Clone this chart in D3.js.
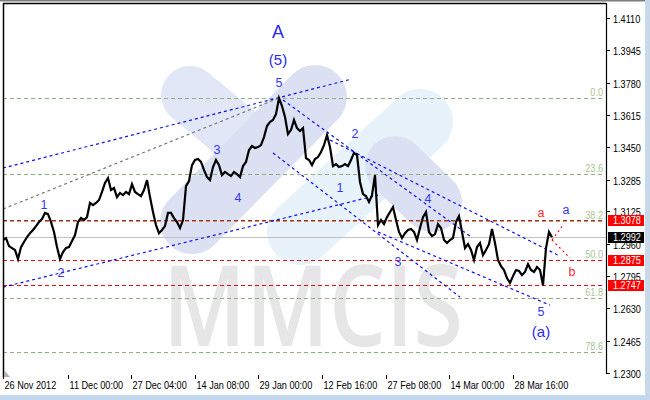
<!DOCTYPE html>
<html><head><meta charset="utf-8">
<script src="https://cdn.jsdelivr.net/npm/d3@7"></script>
<style>html,body{margin:0;padding:0;background:#fff;overflow:hidden}</style>
</head><body>
<svg id="c" width="650" height="400"></svg>
<script>
// ---------- DATA ----------
const priceTicks = [1.4110,1.3945,1.3780,1.3615,1.3450,1.3285,1.3125,1.2960,1.2795,1.2630,1.2465,1.2300];
const timeTickBars = [0,65,128,192,255,319,383,446,510];
const timeTickLabels = ["26 Nov 2012","11 Dec 00:00","27 Dec 04:00","14 Jan 08:00","29 Jan 00:00","12 Feb 16:00","27 Feb 08:00","14 Mar 00:00","28 Mar 16:00"];
const sampleStep = 3; // bars between samples
const closes = [
1.2978,1.2988,1.2947,1.2937,1.2927,1.2881,1.2942,1.2968,1.2993,1.3013,
1.3029,1.3049,1.3070,1.3085,1.3116,1.3110,1.3070,1.3019,1.2942,1.2881,
1.2917,1.2937,1.2942,1.2973,1.3003,1.3070,1.3090,1.3080,1.3095,1.3167,
1.3156,1.3167,1.3182,1.3223,1.3269,1.3294,1.3233,1.3243,1.3197,1.3218,
1.3207,1.3223,1.3212,1.3263,1.3223,1.3212,1.3202,1.3233,1.3284,1.3197,
1.3121,1.3054,1.3013,1.3029,1.3049,1.3116,1.3116,1.3090,1.3070,1.3039,
1.3080,1.3253,1.3279,1.3360,1.3386,1.3391,1.3376,1.3335,1.3299,1.3284,
1.3350,1.3386,1.3360,1.3309,1.3325,1.3314,1.3304,1.3325,1.3314,1.3299,
1.3355,1.3376,1.3437,1.3457,1.3447,1.3452,1.3462,1.3503,1.3559,1.3580,
1.3590,1.3620,1.3702,1.3661,1.3605,1.3518,1.3539,1.3590,1.3549,1.3534,
1.3549,1.3396,1.3386,1.3360,1.3391,1.3401,1.3427,1.3462,1.3513,1.3452,
1.3355,1.3365,1.3350,1.3355,1.3365,1.3355,1.3386,1.3422,1.3411,1.3274,
1.3212,1.3202,1.3172,1.3207,1.3309,1.3054,1.3080,1.3059,1.3095,1.3121,
1.3146,1.3080,1.3019,1.2988,1.3013,1.3029,1.3034,1.3019,1.2978,1.3039,
1.3095,1.3121,1.3019,1.2998,1.3008,1.3059,1.3039,1.2978,1.2963,1.2978,
1.2988,1.3070,1.3100,1.3019,1.2937,1.2957,1.2927,1.2876,1.2942,1.2963,
1.2901,1.2927,1.2957,1.3034,1.2963,1.2876,1.2845,1.2825,1.2784,1.2759,
1.2794,1.2825,1.2820,1.2799,1.2815,1.2855,1.2825,1.2815,1.2840,1.2825,
1.2747,1.2937,1.3019,1.2992];
const redLevels = [1.3078, 1.2875, 1.2747];
const bidPrice = 1.2992;
const fibLevels = [0.0, 23.6, 38.2, 50.0, 61.8, 78.6];
const fibHigh = 1.3702, fibLow = 1.2054;
// trend lines: [bar1, price1, bar2, price2, kind]
const trendLines = [
  [0,1.3345,349,1.3799,"blue"],
  [0,1.2738,375,1.3207,"blue"],
  [0,1.3136,276,1.3702,"gray"],
  [280,1.3692,467,1.2998,"blue"],
  [327,1.3488,555,1.2901,"blue"],
  [270,1.3422,457,1.2687,"blue"],
  [375,1.3019,547,1.2646,"blue"],
  [549,1.2978,560,1.3054,"red"],
  [549,1.2978,567,1.2886,"red"]
];
// wave labels: [text, bar, price, kind]
const waveLabels = [
  ["A",275,1.4039,"big"],["(5)",275,1.3896,"mid"],["5",276,1.3778,"blue"],
  ["1",41,1.3156,"blue"],["2",58,1.2809,"blue"],["3",214,1.3437,"blue"],["4",235,1.3192,"blue"],
  ["1",337,1.3243,"blue"],["2",352,1.3518,"blue"],["3",395,1.2866,"blue"],["4",425,1.3187,"blue"],
  ["5",538,1.2611,"blue"],["(a)",538,1.2514,"mid"],
  ["a",538,1.3116,"red"],["a",563,1.3131,"blue"],["b",569,1.2815,"red"]
];

// ---------- DRAW ----------
const svg = d3.select("#c");
const L = 3, R = 606, T = 3, B = 373;
const x = d3.scaleLinear().domain([0,603]).range([3,606]);
const y = d3.scaleLinear().domain([1.2300,1.4110]).range([373,18]);
const axisFont = "'Liberation Sans',Arial,sans-serif";
function axText(sel, px, py, str, fill, anchor) {
  return sel.append("text").attr("transform",`translate(${px},${py}) scale(0.83,1)`)
    .attr("text-anchor",anchor||"start").attr("font-family",axisFont).attr("font-size",11)
    .attr("fill",fill).text(str);
}

// window chrome
svg.append("rect").attr("x",0).attr("y",0).attr("width",650).attr("height",400).attr("fill","#fff");
svg.append("rect").attr("x",0).attr("y",0).attr("width",650).attr("height",1.5).attr("fill","#7d7d7d");
svg.append("rect").attr("x",645).attr("y",0).attr("width",5).attr("height",400).attr("fill","#c9d9ec");
svg.append("rect").attr("x",0).attr("y",395).attr("width",650).attr("height",5).attr("fill","#c3d7ef");

const defs = svg.append("defs");
defs.append("clipPath").attr("id","plot").append("rect").attr("x",L).attr("y",T).attr("width",R-L).attr("height",B-T);
const g = svg.append("g").attr("clip-path","url(#plot)");

// watermark logo
const wm = g.append("g").attr("stroke-linecap","round").attr("fill","none");
wm.append("line").attr("x1",300).attr("y1",232).attr("x2",420).attr("y2",122).attr("stroke","#e7f2fb").attr("stroke-width",66);
wm.append("line").attr("x1",190).attr("y1",95).attr("x2",250).attr("y2",145).attr("stroke","#e1e7f6").attr("stroke-width",58);
wm.append("line").attr("x1",395).attr("y1",166).attr("x2",432).attr("y2",202).attr("stroke","#dbe1f3").attr("stroke-width",60);
wm.append("line").attr("x1",192).attr("y1",222).attr("x2",315).attr("y2",97).attr("stroke","#dbe1f3").attr("stroke-width",64);
g.append("text").attr("x",163).attr("y",346).attr("font-family","'Open Sans','Liberation Sans',sans-serif")
  .attr("font-weight",600).attr("font-size",112).attr("textLength",300).attr("lengthAdjust","spacingAndGlyphs")
  .attr("fill","#e6e6e6").text("MMCIS");

// fib levels
const fibPrice = lv => fibHigh - (fibHigh - fibLow) * lv / 100;
fibLevels.forEach(lv => {
  const yy = Math.round(y(fibPrice(lv))) + 0.5;
  g.append("line").attr("x1",L).attr("x2",604).attr("y1",yy).attr("y2",yy)
    .attr("stroke","#8fb07f").attr("stroke-dasharray","4,3").attr("stroke-width",1);
  axText(svg, 603, yy-3, lv.toFixed(1), "#a8c496", "end");
});

// bid line
{
  const yy = Math.round(y(bidPrice)) + 0.5;
  g.append("line").attr("x1",L).attr("x2",R).attr("y1",yy).attr("y2",yy).attr("stroke","#c0c0c0").attr("stroke-width",1.2);
}
// red levels
redLevels.forEach(p => {
  const yy = Math.round(y(p)) + 0.5;
  g.append("line").attr("x1",L).attr("x2",604).attr("y1",yy).attr("y2",yy)
    .attr("stroke","#e01010").attr("stroke-dasharray","4,3").attr("stroke-width",1.2);
});

// trend lines
const tlStyle = {blue:{c:"#1010ee",d:"3,3"}, gray:{c:"#777",d:"3,3"}, red:{c:"#ee1010",d:"2,3"}};
trendLines.forEach(t => {
  g.append("line").attr("x1",x(t[0])).attr("y1",y(t[1])).attr("x2",x(t[2])).attr("y2",y(t[3]))
    .attr("stroke",tlStyle[t[4]].c).attr("stroke-dasharray",tlStyle[t[4]].d).attr("stroke-width",1.2);
});

// price line
const line = d3.line().x((d,i)=>x(i*sampleStep)).y(d=>y(d));
g.append("path").datum(closes).attr("d",line).attr("fill","none").attr("stroke","#000").attr("stroke-width",2.2).attr("stroke-linejoin","miter");

// wave labels
const lblStyle = {big:{s:18,c:"#2a2af0"}, mid:{s:15,c:"#2a2af0"}, blue:{s:12.5,c:"#3535ff"}, red:{s:12.5,c:"#ff2a2a"}};
waveLabels.forEach(w => {
  svg.append("text").attr("x",x(w[1])).attr("y",y(w[2])).attr("text-anchor","middle").attr("dominant-baseline","central")
    .attr("font-family","'Liberation Sans',Arial,sans-serif").attr("font-size",lblStyle[w[3]].s)
    .attr("fill",lblStyle[w[3]].c).text(w[0]);
});

// frame
svg.append("line").attr("x1",L+0.5).attr("x2",L+0.5).attr("y1",T).attr("y2",377).attr("stroke","#000").attr("stroke-width",1.5);
svg.append("line").attr("x1",L).attr("x2",R).attr("y1",T+0.5).attr("y2",T+0.5).attr("stroke","#000").attr("stroke-width",1.5);
svg.append("line").attr("x1",R+0.5).attr("x2",R+0.5).attr("y1",T).attr("y2",B+1).attr("stroke","#000").attr("stroke-width",1.2);
svg.append("path").attr("d",`M${L+1},370 L${L+1},377 L${L+7},377 Z`).attr("fill","#b0b0b0");

// right price axis
priceTicks.forEach(p => {
  const yy = Math.round(y(p)) + 0.5;
  svg.append("line").attr("x1",R).attr("x2",R+4).attr("y1",yy).attr("y2",yy).attr("stroke","#000");
  axText(svg, R+7, yy+4, p.toFixed(4), "#000");
});
// price boxes
const boxes = redLevels.map(p=>({p, c:"#ff0000"})).concat([{p:bidPrice, c:"#000"}]);
boxes.forEach(b => {
  const yy = Math.round(y(b.p));
  svg.append("rect").attr("x",R+2).attr("y",yy-5).attr("width",36).attr("height",11).attr("fill",b.c);
  axText(svg, R+7, yy+4, b.p.toFixed(4), "#fff");
});

// bottom time axis
timeTickBars.forEach((b,i) => {
  const xx = Math.round(x(b)) + 0.5;
  svg.append("line").attr("x1",xx).attr("x2",xx).attr("y1",375).attr("y2",379).attr("stroke","#000");
  axText(svg, xx+1, 389, timeTickLabels[i], "#000");
});
</script>
</body></html>
